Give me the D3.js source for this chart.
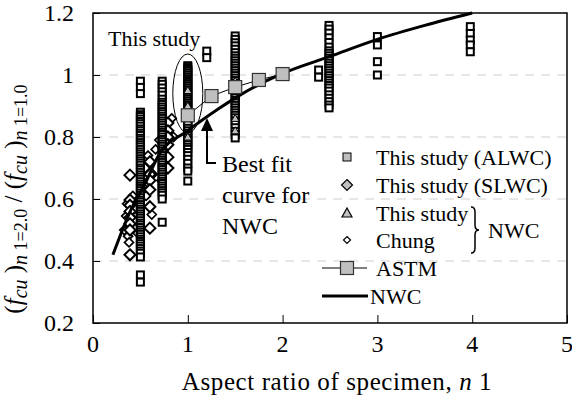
<!DOCTYPE html>
<html><head><meta charset="utf-8">
<script src="https://cdn.jsdelivr.net/npm/d3@7"></script>
<style>body{margin:0;background:#fff}svg{display:block}text{font-family:"Liberation Serif","Times New Roman",serif;fill:#000}</style>
</head><body>
<svg id="c" width="572" height="403"></svg>
<script>
// ---- data ----
const xTicks = [0, 1, 2, 3, 4, 5];
const yTicks = [0.2, 0.4, 0.6, 0.8, 1.0, 1.2];
const yTickLabels = ["0.2", "0.4", "0.6", "0.8", "1", "1.2"];

// This study (ALWC) – open squares, by aspect-ratio column
const alwc05 = [0.98,0.96,0.94,0.88,0.872,0.866,0.858,0.85,0.843,0.835,0.826,0.82,0.812,0.805,0.796,0.79,0.782,0.775,0.768,0.76,0.752,0.745,0.738,0.73,0.723,0.716,0.709,0.70,0.694,0.686,0.678,0.671,0.664,0.656,0.648,0.641,0.634,0.627,0.619,0.612,0.604,0.596,0.59,0.582,0.575,0.567,0.56,0.552,0.545,0.538,0.53,0.522,0.516,0.508,0.50,0.493,0.486,0.478,0.47,0.463,0.456,0.448,0.44,0.432,0.425,0.413,0.355,0.332];
const alwc073 = [0.98,0.97,0.958,0.946,0.935,0.922,0.912,0.905,0.897,0.89,0.882,0.875,0.867,0.86,0.852,0.845,0.838,0.83,0.822,0.815,0.808,0.80,0.792,0.785,0.777,0.77,0.762,0.755,0.748,0.74,0.732,0.725,0.718,0.71,0.702,0.695,0.687,0.68,0.672,0.665,0.657,0.65,0.642,0.635,0.627,0.62,0.612,0.60,0.525];
const alwc10 = [1.03,1.024,1.018,1.012,1.006,1.0,0.994,0.988,0.982,0.976,0.97,0.964,0.958,0.952,0.946,0.94,0.934,0.928,0.922,0.916,0.91,0.904,0.898,0.892,0.886,0.88,0.874,0.868,0.862,0.856,0.85,0.843,0.836,0.828,0.82,0.812,0.805,0.797,0.79,0.782,0.775,0.767,0.76,0.75,0.74,0.728,0.715,0.70,0.69,0.658];
const alwc12 = [1.077,1.056];
const alwc15 = [1.126,1.115,1.104,1.094,1.083,1.072,1.062,1.054,1.046,1.038,1.03,1.022,1.014,1.006,0.998,0.99,0.982,0.974,0.966,0.958,0.95,0.942,0.934,0.926,0.918,0.91,0.902,0.894,0.886,0.878,0.87,0.862,0.852,0.842,0.83,0.818,0.808,0.797];
const alwc24 = [1.016,0.993];
const alwc25 = [1.16,1.148,1.135,1.12,1.105,1.09,1.078,1.07,1.062,1.054,1.046,1.038,1.03,1.022,1.014,1.006,0.998,0.99,0.982,0.974,0.966,0.958,0.948,0.936,0.925,0.914,0.903,0.894];
const alwc30 = [1.124,1.097,1.043,1.0];
const alwc40 = [1.156,1.134,1.113,1.097,1.075];

// This study (SLWC) – diamonds
const slwcN1 = [0.39,0.39,0.39,0.39,0.39,0.39,0.39,0.39,0.6,0.6,0.6,0.6,0.6,0.6,0.79,0.79,0.79,0.79,0.79,0.79];
const slwcR  = [0.677,0.597,0.58,0.56,0.54,0.52,0.50,0.42,0.72,0.68,0.66,0.63,0.575,0.506,0.845,0.82,0.80,0.775,0.735,0.70];
// Chung (NWC) – small open diamonds
const chungN1 = [0.33,0.35,0.36,0.37,0.38,0.41,0.42,0.44,0.45,0.47,0.52,0.55,0.56,0.58,0.62,0.63,0.66,0.7,0.72,0.76,0.83,0.85];
const chungR  = [0.50,0.545,0.585,0.48,0.46,0.56,0.61,0.53,0.57,0.49,0.64,0.70,0.61,0.74,0.55,0.68,0.76,0.79,0.66,0.82,0.86,0.80];

// This study (NWC) – triangles
const nwcN1 = [1.0,1.0,1.0,1.0,1.5,1.5,1.5];
const nwcR  = [0.95,0.9,0.85,0.8,0.98,0.86,0.82];

// ASTM correction factors
const astmN1 = [1.0,1.25,1.5,1.75,2.0];
const astmR  = [0.87,0.932,0.961,0.984,1.003];

// Best-fit curve for NWC
const fitN1 = [0.21,0.4,0.55,0.7,1.0,1.34,1.55,2.0,2.5,3.0,3.5,4.0];
const fitR  = [0.42,0.565,0.65,0.745,0.82,0.894,0.935,1.005,1.06,1.115,1.16,1.2];

// ---- chart ----
const svg = d3.select("#c");
const L = 93, R = 567, T = 13, B = 323;
const x = d3.scaleLinear().domain([0,5]).range([L,R]);
const y = d3.scaleLinear().domain([0.2,1.2]).range([B,T]);

// grid
svg.append("g").selectAll("line").data(yTicks.slice(1,-1)).join("line")
  .attr("x1",L).attr("x2",R).attr("y1",d=>y(d)).attr("y2",d=>y(d))
  .attr("stroke","#cfcfcf").attr("stroke-width",1).attr("stroke-dasharray","9,7");

// axes
const gx = svg.append("g").attr("transform",`translate(0,${B})`)
  .call(d3.axisTop(x).tickValues(xTicks).tickSize(8).tickFormat(""));
gx.select(".domain").remove();
gx.selectAll("line").attr("stroke","#000").attr("stroke-width",1);
svg.append("g").selectAll("text").data(xTicks).join("text")
  .attr("x",d=>x(d)).attr("y",352).attr("text-anchor","middle").attr("font-size",24).text(d=>d);

const gy = svg.append("g").attr("transform",`translate(${L},0)`)
  .call(d3.axisRight(y).tickValues(yTicks).tickSize(7).tickFormat(""));
gy.select(".domain").remove();
gy.selectAll("line").attr("stroke","#000").attr("stroke-width",1);
svg.append("g").selectAll("text").data(yTicks).join("text")
  .attr("x",74).attr("y",d=>y(d)+8).attr("text-anchor","end").attr("font-size",24)
  .text((d,i)=>yTickLabels[i]);

// data points
const sqPts = [];
[[0.5,alwc05],[0.73,alwc073],[1.0,alwc10],[1.2,alwc12],[1.5,alwc15],[2.38,alwc24],[2.49,alwc25],[3.0,alwc30],[3.98,alwc40]]
  .forEach(([n,arr])=>arr.forEach(v=>sqPts.push([n,v])));

const pts = svg.append("g");
const dia = (s)=>`M0,${-s}L${s},0L0,${s}L${-s},0Z`;
pts.selectAll(".ch").data(chungN1.map((n,i)=>[n,chungR[i]])).join("path")
  .attr("d",dia(4.5)).attr("transform",d=>`translate(${x(d[0])},${y(d[1])})`)
  .attr("fill","#fff").attr("stroke","#000").attr("stroke-width",1.7);
pts.selectAll(".sl").data(slwcN1.map((n,i)=>[n,slwcR[i]])).join("path")
  .attr("d",dia(5.5)).attr("transform",d=>`translate(${x(d[0])},${y(d[1])})`)
  .attr("fill","#fff").attr("stroke","#000").attr("stroke-width",2);
pts.selectAll("rect").data(sqPts).join("rect")
  .attr("x",d=>x(d[0])-3.5).attr("y",d=>y(d[1])-3.5).attr("width",7).attr("height",7)
  .attr("fill","#fff").attr("stroke","#000").attr("stroke-width",2);
pts.selectAll(".tr").data(nwcN1.map((n,i)=>[n,nwcR[i]])).join("path")
  .attr("d","M0,-4L4,3L-4,3Z").attr("transform",d=>`translate(${x(d[0])},${y(d[1])})`)
  .attr("fill","#bfbfbf").attr("stroke","#000").attr("stroke-width",1);

// best fit curve
svg.append("path").datum(fitN1.map((n,i)=>[n,fitR[i]]))
  .attr("d",d3.line().x(d=>x(d[0])).y(d=>y(d[1])).curve(d3.curveMonotoneX))
  .attr("fill","none").attr("stroke","#000").attr("stroke-width",3);

// ASTM
svg.append("path").datum(astmN1.map((n,i)=>[n,astmR[i]]))
  .attr("d",d3.line().x(d=>x(d[0])).y(d=>y(d[1])))
  .attr("fill","none").attr("stroke","#000").attr("stroke-width",1);
svg.append("g").selectAll("rect").data(astmN1.map((n,i)=>[n,astmR[i]])).join("rect")
  .attr("x",d=>x(d[0])-6.5).attr("y",d=>y(d[1])-6.5).attr("width",13).attr("height",13)
  .attr("fill","#bfbfbf").attr("stroke","#333").attr("stroke-width",1.2);

// frame
svg.append("rect").attr("x",L).attr("y",T).attr("width",R-L).attr("height",B-T)
  .attr("fill","none").attr("stroke","#000").attr("stroke-width",1.5);

// ellipse + "This study"
svg.append("ellipse").attr("cx",x(1.0)).attr("cy",93.5).attr("rx",15).attr("ry",39.5)
  .attr("fill","none").attr("stroke","#000").attr("stroke-width",1);
svg.append("text").attr("x",108).attr("y",46).attr("font-size",22).text("This study");

// arrow annotation
svg.append("path").attr("d","M207,131L207,163L216,163").attr("fill","none").attr("stroke","#000").attr("stroke-width",2);
svg.append("path").attr("d","M207,118L213,131L201,131Z").attr("fill","#000");
[["Best fit",172],["curve for",203],["NWC",234]].forEach(([t,yy])=>
  svg.append("text").attr("x",222).attr("y",yy).attr("font-size",24).text(t));

// legend
const lg = svg.append("g");
const lx = 347, tx = 376;
const rows = [157,185,213,240,268,296];
lg.append("rect").attr("x",lx-4).attr("y",rows[0]-4).attr("width",8).attr("height",8).attr("fill","#bfbfbf").attr("stroke","#000");
lg.append("path").attr("d",dia(5.5)).attr("transform",`translate(${lx},${rows[1]})`).attr("fill","#bfbfbf").attr("stroke","#000").attr("stroke-width",1.2);
lg.append("path").attr("d","M0,-5L5,4L-5,4Z").attr("transform",`translate(${lx},${rows[2]})`).attr("fill","#bfbfbf").attr("stroke","#000").attr("stroke-width",1.2);
lg.append("path").attr("d",dia(3.5)).attr("transform",`translate(${lx},${rows[3]})`).attr("fill","#fff").attr("stroke","#000").attr("stroke-width",1.2);
lg.append("line").attr("x1",322).attr("x2",367).attr("y1",rows[4]).attr("y2",rows[4]).attr("stroke","#000").attr("stroke-width",1.2);
lg.append("rect").attr("x",lx-6.5).attr("y",rows[4]-6.5).attr("width",13).attr("height",13).attr("fill","#bfbfbf").attr("stroke","#333").attr("stroke-width",1.2);
lg.append("line").attr("x1",322).attr("x2",368).attr("y1",rows[5]).attr("y2",rows[5]).attr("stroke","#000").attr("stroke-width",3);
const labels = ["This study (ALWC)","This study (SLWC)","This study","Chung","ASTM","NWC"];
lg.selectAll("text").data(labels).join("text")
  .attr("x",(d,i)=>i===5?370:tx).attr("y",(d,i)=>rows[i]+8).attr("font-size",22).text(d=>d);
// brace
lg.append("path").attr("d","M471,207 Q475,207 475,212 L475,225 Q475,230 479,230 Q475,230 475,235 L475,248 Q475,253 471,253")
  .attr("fill","none").attr("stroke","#000").attr("stroke-width",1.5);
lg.append("text").attr("x",488).attr("y",238).attr("font-size",22).text("NWC");

// axis titles
const xt = svg.append("text").attr("x",337).attr("y",390).attr("text-anchor","middle").attr("font-size",25).attr("letter-spacing",0.6);
xt.append("tspan").text("Aspect ratio of specimen, ");
xt.append("tspan").attr("font-style","italic").text("n");
xt.append("tspan").text(" 1");

const yt = svg.append("text").attr("transform","translate(22,199) rotate(-90)").attr("text-anchor","middle").attr("font-size",25);
const parts = [["(",0,0,25],["f",1,0,25],["cu",1,5,20],[" )",0,0,25],["n",1,5,20],[" 1=2.0",0,5,18],[" / (",0,0,25],["f",1,0,25],["cu",1,5,20],[" )",0,0,25],["n",1,5,20],[" 1=1.0",0,5,18]];
let cur = 0;
parts.forEach(([t,it,sh,fs])=>{
  yt.append("tspan").attr("font-style",it?"italic":"normal").attr("font-size",fs).attr("dy",sh-cur).text(t);
  cur = sh;
});
</script>
</body></html>
